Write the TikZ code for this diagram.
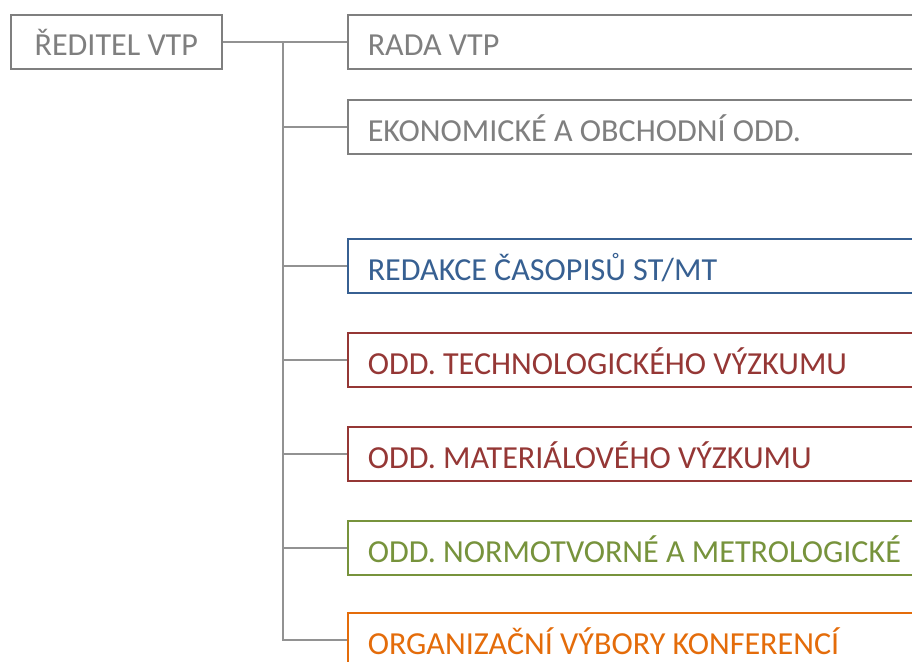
\documentclass[tikz,border=0pt]{standalone}
\usepackage{fontspec}
\setmainfont{Carlito}
\definecolor{cgray}{HTML}{7F7F7F}
\definecolor{cblue}{HTML}{376092}
\definecolor{cred}{HTML}{953735}
\definecolor{cgreen}{HTML}{77933C}
\definecolor{corange}{HTML}{E46C0A}
\begin{document}
\begin{tikzpicture}[x=1pt,y=-1pt,
  unit/.style={draw=#1, text=#1, line width=1.6pt, anchor=west, inner xsep=20pt, inner ysep=0pt,
    text width=640pt, align=flush left, text height=41pt, text depth=13pt,
    font=\fontsize{32.1}{32}\selectfont},
  head/.style={draw=cgray, text=cgray, line width=1.6pt, inner xsep=0pt, inner ysep=0pt,
    minimum width=211pt, align=center, text height=41pt, text depth=13pt,
    font=\fontsize{32.1}{32}\selectfont},
  link/.style={draw=cgray!85!white, line width=1.6pt}]
\useasboundingbox (0,0) rectangle (912,661);
\clip (0,0) rectangle (912,661);
\fill[white] (0,0) rectangle (912,661);
\node[head, anchor=west] (dir) at (10,42) {ŘEDITEL VTP};
\node[unit=cgray]   (rada) at (347,42)  {RADA VTP};
\node[unit=cgray]   (eko)  at (347,127) {EKONOMICKÉ A OBCHODNÍ ODD.};
\node[unit=cblue]   (red)  at (347,266) {REDAKCE ČASOPISŮ ST/MT};
\node[unit=cred]    (tech) at (347,360) {ODD. TECHNOLOGICKÉHO VÝZKUMU};
\node[unit=cred]    (mat)  at (347,454) {ODD. MATERIÁLOVÉHO VÝZKUMU};
\node[unit=cgreen]  (norm) at (347,548) {ODD. NORMOTVORNÉ A METROLOGICKÉ};
\node[unit=corange] (org)  at (347,640) {ORGANIZAČNÍ VÝBORY KONFERENCÍ};
\coordinate (j) at (283,42);
\draw[link] (dir.east) -- (rada.west);
\draw[link] (j) |- (org.west);
\foreach \n in {eko,red,tech,mat,norm}
  \draw[link] (j |- \n.west) -- (\n.west);
\end{tikzpicture}
\end{document}
